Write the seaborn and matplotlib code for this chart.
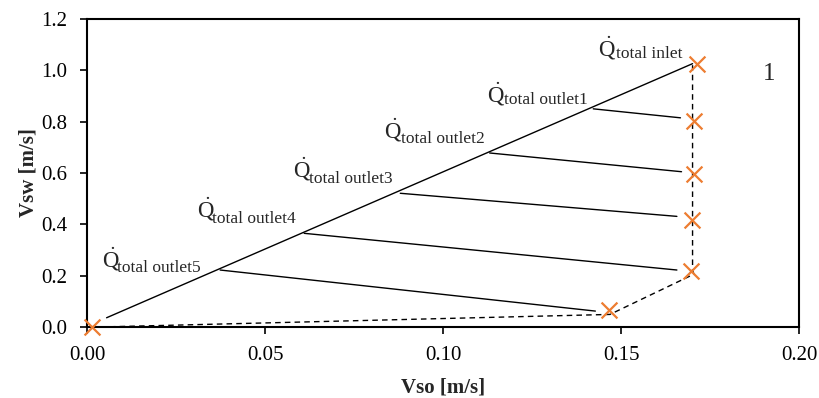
import matplotlib
matplotlib.use("Agg")
import matplotlib.pyplot as plt
import seaborn as sns

sns.set_style("white")
plt.rcParams['font.family'] = ['Liberation Serif', 'DejaVu Serif']
plt.rcParams['mathtext.fontset'] = 'custom'
plt.rcParams['mathtext.rm'] = 'Liberation Serif'
plt.rcParams['mathtext.it'] = 'Liberation Serif:italic'
plt.rcParams['mathtext.bf'] = 'Liberation Serif:bold'

# Data
vso_pts = [0.0015, 0.1466, 0.1697, 0.1699, 0.1705, 0.1705, 0.1713]
vsw_pts = [0.0, 0.065, 0.217, 0.416, 0.598, 0.803, 1.026]

dash_x = [0.0037, 0.1469, 0.1705, 0.1701, 0.1701]
dash_y = [0.0, 0.049, 0.206, 0.22, 1.02]

diag_x = [0.0055, 0.1701]
diag_y = [0.036, 1.026]

tie_start_x = [0.1422, 0.1131, 0.0880, 0.0610, 0.0374]
tie_start_y = [0.850, 0.678, 0.521, 0.365, 0.222]
tie_end_x = [0.1667, 0.1670, 0.1657, 0.1657, 0.1428]
tie_end_y = [0.815, 0.605, 0.431, 0.222, 0.062]

label_subs = ['total inlet', 'total outlet1', 'total outlet2', 'total outlet3',
              'total outlet4', 'total outlet5']
label_q_x = [0.1436, 0.1123, 0.0834, 0.0578, 0.0308, 0.0041]
label_q_y = [1.052, 0.874, 0.735, 0.582, 0.426, 0.231]
label_s_x = [0.1485, 0.1172, 0.0881, 0.0623, 0.0350, 0.0085]
label_s_y = [1.047, 0.869, 0.716, 0.560, 0.404, 0.215]

xticks = [0.00, 0.05, 0.10, 0.15, 0.20]
yticks = [0.0, 0.2, 0.4, 0.6, 0.8, 1.0, 1.2]

fig = plt.figure(figsize=(8.19, 3.98), dpi=100)
ax = fig.add_axes([87/819, 1-327/398, (799-87)/819, (327-19)/398])

# Diagonal solid line
sns.lineplot(x=diag_x, y=diag_y, ax=ax, color='black', lw=1.0, sort=False,
             estimator=None)
# Tie lines
for sx, sy, ex, ey in zip(tie_start_x, tie_start_y, tie_end_x, tie_end_y):
    sns.lineplot(x=[sx, ex], y=[sy, ey], ax=ax, color='black', lw=1.0,
                 sort=False, estimator=None)
# Dashed path
sns.lineplot(x=dash_x, y=dash_y, ax=ax, color='black', lw=1.0, sort=False,
             estimator=None, linestyle=(0, (4, 3)))
# Markers
sns.scatterplot(x=vso_pts, y=vsw_pts, ax=ax, marker='x', s=130,
                color='#ED7D31', linewidth=1.6, zorder=5, clip_on=False)

for qx, qy, sx, sy, sub in zip(label_q_x, label_q_y, label_s_x, label_s_y, label_subs):
    ax.text(qx, qy, r'$\dot{\mathrm{Q}}$', fontsize=16.5, ha='left', va='baseline')
    ax.text(sx, sy, sub, fontsize=12.5, ha='left', va='baseline')

ax.text(0.1916, 0.986, '1', fontsize=18, ha='center', va='center')

ax.set_xlim(0, 0.20)
ax.set_ylim(0, 1.2)
ax.set_xticks(xticks)
ax.set_yticks(yticks)
ax.set_xticklabels([f'{v:.2f}' for v in xticks], fontsize=15)
ax.set_yticklabels([f'{v:.1f}' for v in yticks], fontsize=15)
ax.tick_params(axis='both', direction='out', length=5, width=1.2,
               bottom=True, left=True, colors='black', pad=9)
for sp in ax.spines.values():
    sp.set_visible(True)
    sp.set_color('black')
    sp.set_linewidth(1.5)

ax.set_xlabel('Vso [m/s]', fontsize=15, fontweight='bold', labelpad=9)
ax.set_ylabel('Vsw [m/s]', fontsize=15, fontweight='bold', labelpad=2)

fig.savefig('out.png', dpi=100)
